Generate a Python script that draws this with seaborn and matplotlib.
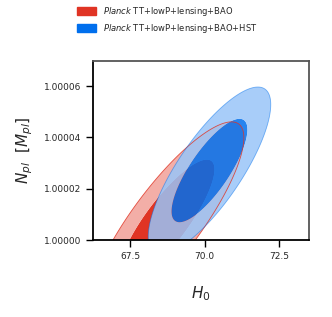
import numpy as np
import seaborn as sns
import matplotlib.pyplot as plt
from matplotlib.patches import Patch
from matplotlib.ticker import FormatStrFormatter

# Gaussian summaries of the two chains
labels = [r'$\it{Planck}$ TT+lowP+lensing+BAO',
          r'$\it{Planck}$ TT+lowP+lensing+BAO+HST']
colors = ['#E03424', '#006FED']
h0_mean = [68.72, 70.16]
h0_sigma = [1.06, 0.84]
npl_mean = [1.0000074, 1.0000271]
npl_sigma = [1.58e-5, 1.33e-5]
corr = [0.84, 0.79]

xticks = [67.5, 70.0, 72.5]
yticks = [1.00000, 1.00002, 1.00004, 1.00006]

# delta chi^2 for 68% / 95% in 2D
chi2_levels = [0.0, 2.30, 5.99]
line_alpha = [0.85, 0.5]


def pale(c, f=0.6):
    r, g, b = plt.matplotlib.colors.to_rgb(c)
    return (r * (1 - f) + f, g * (1 - f) + f, b * (1 - f) + f)


def main():
    sns.set_style("ticks")
    plt.rcParams['font.family'] = ['DejaVu Sans']
    plt.rcParams['mathtext.fontset'] = 'dejavusans'

    fig = plt.figure(figsize=(3.32, 3.17), dpi=100)
    ax = fig.add_axes([93 / 332, 1 - 240 / 317, 216 / 332, 179 / 317])

    xg = np.linspace(63.0, 77.0, 700)
    yg = np.linspace(0.99994, 1.00011, 700)
    X, Y = np.meshgrid(xg, yg)

    for i in range(len(labels)):
        dx = (X - h0_mean[i]) / h0_sigma[i]
        dy = (Y - npl_mean[i]) / npl_sigma[i]
        r = corr[i]
        chi2 = (dx ** 2 - 2 * r * dx * dy + dy ** 2) / (1 - r ** 2)
        alpha = 1.0 if i == 0 else 0.85
        ax.contourf(X, Y, chi2, levels=chi2_levels,
                    colors=[colors[i], pale(colors[i])], alpha=alpha,
                    antialiased=True)
        ax.contour(X, Y, chi2, levels=[chi2_levels[2]], colors=[colors[i]],
                   linewidths=0.6, alpha=line_alpha[i])

    ax.set_xlim(66.25, 73.5)
    ax.set_ylim(1.0, 1.0000698)
    ax.set_xticks(xticks)
    ax.set_yticks(yticks)
    ax.yaxis.set_major_formatter(FormatStrFormatter('%.5f'))
    ax.xaxis.set_major_formatter(FormatStrFormatter('%.1f'))
    ax.tick_params(labelsize=6.5, length=5, width=1, color='black')
    ax.set_xlabel(r'$H_0$', fontsize=11, labelpad=17)
    ax.set_ylabel(r'$N_{pl}\ \ [M_{pl}]$', fontsize=11, labelpad=6)

    for s in ['left', 'bottom']:
        ax.spines[s].set_color('black')
        ax.spines[s].set_linewidth(1.3)
    for s in ['top', 'right']:
        ax.spines[s].set_color('#555555')
        ax.spines[s].set_linewidth(1.3)

    handles = [Patch(facecolor=c, edgecolor=c) for c in colors]
    fig.legend(handles, labels, loc='upper left',
               bbox_to_anchor=(77 / 332, 1 - 5 / 317), frameon=False,
               fontsize=6, handlelength=2.3, handleheight=1.0,
               handletextpad=0.8, labelspacing=0.45,
               borderpad=0, borderaxespad=0)

    fig.savefig('out.png', dpi=100)


if __name__ == '__main__':
    main()
